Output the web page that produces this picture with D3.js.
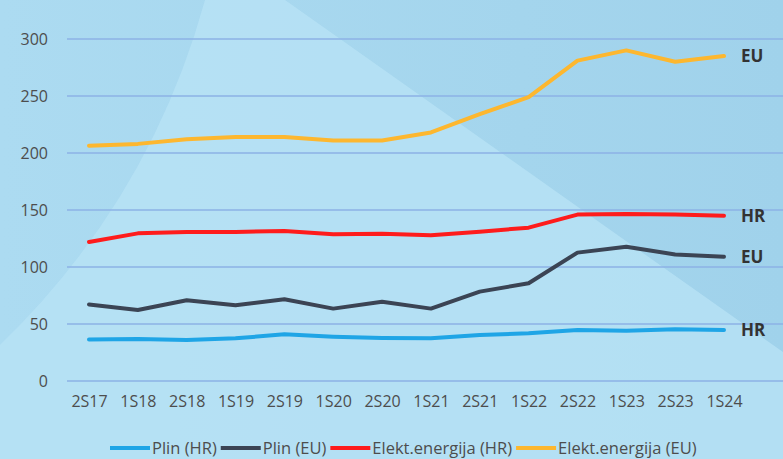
<!DOCTYPE html>
<html>
<head>
<meta charset="utf-8">
<script src="https://cdn.jsdelivr.net/npm/d3@7/dist/d3.min.js"></script>
<style>
  body { margin: 0; }
  svg { display: block; font-family: "Open Sans", sans-serif; }
</style>
</head>
<body>
<script>
var width = 783, height = 459;

var periods = ["2S17","1S18","2S18","1S19","2S19","1S20","2S20","1S21","2S21","1S22","2S22","1S23","2S23","1S24"];
var plinHR   = [36.5, 36.8, 36, 37.4, 41, 38.9, 37.7, 37.4, 40.3, 41.8, 44.7, 44, 45.3, 44.7];
var plinEU   = [67.2, 62.3, 70.8, 66.4, 71.7, 63.5, 69.6, 63.5, 78.4, 85.7, 112.6, 117.8, 111, 109];
var elektHR  = [122, 129.5, 130.7, 130.7, 131.6, 128.7, 129.2, 127.8, 131, 134.5, 146, 146.5, 146, 145];
var elektEU  = [206.4, 208, 212, 214, 214, 211, 211, 218, 234, 249, 281, 290, 280, 285];
var yTicks = [0, 50, 100, 150, 200, 250, 300];

var series = [
  {name: "Plin (HR)", values: plinHR, color: "#1fa5e6", tag: "HR"},
  {name: "Plin (EU)", values: plinEU, color: "#3b4454", tag: "EU"},
  {name: "Elekt.energija (HR)", values: elektHR, color: "#fe1c1c", tag: "HR"},
  {name: "Elekt.energija (EU)", values: elektEU, color: "#fdb72f", tag: "EU"}
];

var svg = d3.select("body").append("svg")
    .attr("width", width)
    .attr("height", height);

// background
var defs = svg.append("defs");
var grad = defs.append("linearGradient").attr("id", "bg")
    .attr("x1", "0").attr("y1", "0").attr("x2", "1").attr("y2", "0");
grad.append("stop").attr("offset", "0").attr("stop-color", "#acdbf1");
grad.append("stop").attr("offset", "1").attr("stop-color", "#a0d2eb");

svg.append("rect").attr("width", width).attr("height", height).attr("fill", "url(#bg)");
svg.append("path")
    .attr("d", "M205,0 Q150,200 0,345 L0,459 L783,459 L783,352 L285,0 Z")
    .attr("fill", "#b8e2f5")
    .attr("opacity", 0.8);

var x = d3.scalePoint().domain(periods).range([89, 724]);
var y = d3.scaleLinear().domain([0, 300]).range([381, 39]);

// gridlines
svg.append("g")
  .selectAll("line")
    .data(yTicks)
  .enter().append("line")
    .attr("x1", 67).attr("x2", width)
    .attr("y1", function(d) { return y(d); })
    .attr("y2", function(d) { return y(d); })
    .attr("stroke", "#8cb2e6")
    .attr("stroke-width", 1.5);

// y axis labels
var yAxis = svg.append("g")
    .attr("transform", "translate(48,0)")
    .call(d3.axisLeft(y).tickValues(yTicks).tickSize(0).tickPadding(0));
yAxis.select(".domain").remove();
yAxis.selectAll("text")
    .attr("fill", "#4d4d4d")
    .style("font-size", "16px")
    .style("font-family", "Open Sans, sans-serif");

// x axis labels
var xAxis = svg.append("g")
    .attr("transform", "translate(0,396)")
    .call(d3.axisBottom(x).tickSize(0).tickPadding(0));
xAxis.select(".domain").remove();
xAxis.selectAll("text")
    .attr("fill", "#4d4d4d")
    .style("font-size", "16px")
    .style("font-family", "Open Sans, sans-serif");

// lines
var line = d3.line()
    .x(function(d, i) { return x(periods[i]); })
    .y(function(d) { return y(d); });

svg.append("g")
  .selectAll("path")
    .data(series)
  .enter().append("path")
    .attr("d", function(d) { return line(d.values); })
    .attr("fill", "none")
    .attr("stroke", function(d) { return d.color; })
    .attr("stroke-width", 4)
    .attr("stroke-linejoin", "round")
    .attr("stroke-linecap", "round");

// end tags
svg.append("g")
  .selectAll("text")
    .data(series)
  .enter().append("text")
    .attr("x", 741)
    .attr("y", function(d) { return y(d.values[d.values.length - 1]) + 6; })
    .attr("fill", "#333")
    .style("font-size", "17px")
    .style("font-weight", "bold")
    .text(function(d) { return d.tag; });

// legend
var legend = svg.append("g").attr("transform", "translate(0,448)");
var lx = 110;
series.forEach(function(s) {
  legend.append("line")
      .attr("x1", lx).attr("x2", lx + 40)
      .attr("y1", 0).attr("y2", 0)
      .attr("stroke", s.color)
      .attr("stroke-width", 4);
  var t = legend.append("text")
      .attr("x", lx + 42)
      .attr("y", 5.5)
      .attr("fill", "#4d4d4d")
      .style("font-size", "16.5px")
      .text(s.name);
  lx += 42 + t.node().getComputedTextLength() + 4;
});
</script>
</body>
</html>
